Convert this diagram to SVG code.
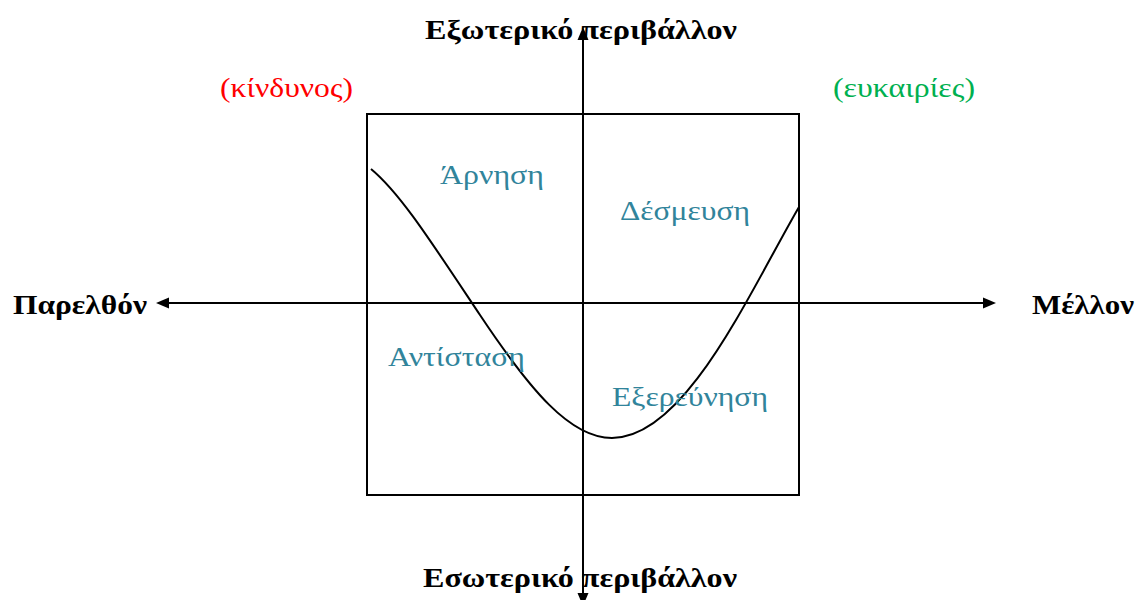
<svg xmlns="http://www.w3.org/2000/svg" width="1135" height="600" viewBox="0 0 1135 600">
<style>
text{font-family:"Liberation Serif","Times New Roman",serif;font-size:27px}
.ax{font-weight:bold;fill:#000}
.q{fill:#31849B}
.r{fill:#FF0000}
.g{fill:#00B050}
.ln{stroke:#000;stroke-width:2;fill:none}
</style>
<rect width="1135" height="600" fill="#fff"/>
<g id="box"><rect x="367" y="114" width="432" height="381" class="ln"/></g>
<g id="connectors">
<line x1="167" y1="303" x2="984" y2="303" class="ln"/>
<polygon points="156,303 169,297.5 169,308.5" fill="#000"/>
<polygon points="996,303 983,297.5 983,308.5" fill="#000"/>
<line x1="583" y1="38" x2="583" y2="600" class="ln"/>
<polygon points="583,27 577.5,40 588.5,40" fill="#000"/>
<polygon points="583,606 577.5,593 588.5,593" fill="#000"/>
<path d="M371,169 C400,193 430,240 480,315 S570,438 612,438 C685,438 748,295 799,207" class="ln"/>
</g>
<g id="top"><text x="425" y="39" class="ax" textLength="312" lengthAdjust="spacingAndGlyphs">Εξωτερικό περιβάλλον</text></g>
<g id="bottom"><text x="423" y="587" class="ax" textLength="314" lengthAdjust="spacingAndGlyphs">Εσωτερικό περιβάλλον</text></g>
<g id="left"><text x="13" y="314" class="ax" textLength="134" lengthAdjust="spacingAndGlyphs">Παρελθόν</text></g>
<g id="right"><text x="1032" y="314" class="ax" textLength="102" lengthAdjust="spacingAndGlyphs">Μέλλον</text></g>
<g id="risk"><text x="220" y="97" class="r" textLength="133" lengthAdjust="spacingAndGlyphs">(κίνδυνος)</text></g>
<g id="opp"><text x="833" y="97" class="g" textLength="142" lengthAdjust="spacingAndGlyphs">(ευκαιρίες)</text></g>
<g id="q1"><text x="440" y="184" class="q" textLength="104" lengthAdjust="spacingAndGlyphs">Άρνηση</text></g>
<g id="q2"><text x="620" y="220" class="q" textLength="130" lengthAdjust="spacingAndGlyphs">Δέσμευση</text></g>
<g id="q3"><text x="388" y="366" class="q" textLength="137" lengthAdjust="spacingAndGlyphs">Αντίσταση</text></g>
<g id="q4"><text x="612" y="406" class="q" textLength="156" lengthAdjust="spacingAndGlyphs">Εξερεύνηση</text></g>
</svg>
